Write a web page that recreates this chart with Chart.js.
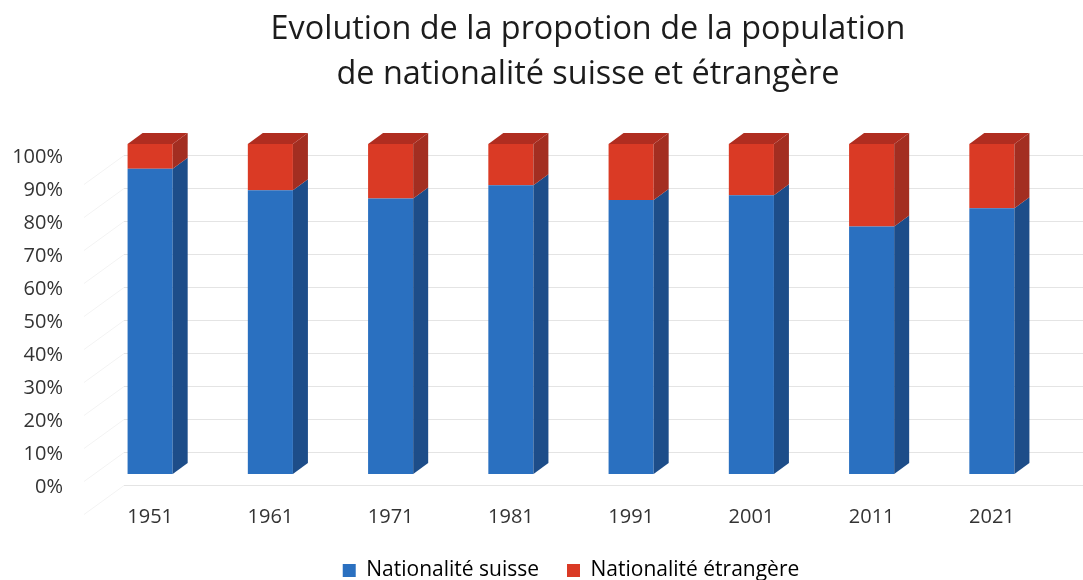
<!DOCTYPE html>
<html>
<head>
<meta charset="utf-8">
<script src="https://cdn.jsdelivr.net/npm/chart.js@4/dist/chart.umd.min.js"></script>
<style>
  html, body { margin: 0; padding: 0; background: #fff; }
  #wrap { width: 1083px; height: 580px; }
</style>
</head>
<body>
<div id="wrap"><canvas id="chart" width="1083" height="580"></canvas></div>
<script>
const years = ["1951", "1961", "1971", "1981", "1991", "2001", "2011", "2021"];
const suisse = [92.5, 86, 83.5, 87.5, 83, 84.5, 75, 80.5];
const etrangere = [7.5, 14, 16.5, 12.5, 17, 15.5, 25, 19.5];
const yTicks = [0, 10, 20, 30, 40, 50, 60, 70, 80, 90, 100];
const titleLines = ["Evolution de la propotion de la population", "de nationalité suisse et étrangère"];

const FONT = "'Open Sans', 'Noto Sans', sans-serif";
const DEPTH_X = 15;
const DEPTH_Y = 11;
const GRID_SHIFT = 11;

// side / top colours for the fake 3D look
const sideColors = ["#1d4d89", "#a32e21"];
const topColors = ["#1d4d89", "#b02d20"];

const backWall = {
  id: "backWall",
  beforeDatasetsDraw(chart) {
    const { ctx, chartArea, scales } = chart;
    ctx.save();
    ctx.lineWidth = 1;
    yTicks.forEach(v => {
      const y = Math.round(scales.y.getPixelForValue(v) + GRID_SHIFT) + 0.5;
      ctx.strokeStyle = "#e4e4e4";
      ctx.beginPath();
      ctx.moveTo(chartArea.left + 34, y);
      ctx.lineTo(chartArea.right + 32, y);
      ctx.stroke();
      ctx.strokeStyle = "#f3f3f3";
      ctx.beginPath();
      ctx.moveTo(chartArea.left + 34, y);
      ctx.lineTo(chartArea.left - 6, y + 29);
      ctx.stroke();
    });
    ctx.restore();
  }
};

const depth = {
  id: "depth",
  afterDatasetsDraw(chart) {
    const { ctx } = chart;
    const last = chart.data.datasets.length - 1;
    ctx.save();
    chart.data.datasets.forEach((ds, i) => {
      const meta = chart.getDatasetMeta(i);
      meta.data.forEach(bar => {
        const { x, y, base, width } = bar.getProps(["x", "y", "base", "width"], true);
        const l = x - width / 2, r = x + width / 2;
        ctx.fillStyle = sideColors[i];
        ctx.beginPath();
        ctx.moveTo(r, y);
        ctx.lineTo(r + DEPTH_X, y - DEPTH_Y);
        ctx.lineTo(r + DEPTH_X, base - DEPTH_Y);
        ctx.lineTo(r, base);
        ctx.closePath();
        ctx.fill();
        if (i === last) {
          ctx.fillStyle = topColors[i];
          ctx.beginPath();
          ctx.moveTo(l, y);
          ctx.lineTo(l + DEPTH_X, y - DEPTH_Y);
          ctx.lineTo(r + DEPTH_X, y - DEPTH_Y);
          ctx.lineTo(r, y);
          ctx.closePath();
          ctx.fill();
        }
      });
    });
    ctx.restore();
  }
};

// title is centred a bit right of the canvas middle in the original
const titleDraw = {
  id: "titleDraw",
  afterDraw(chart) {
    const { ctx } = chart;
    ctx.save();
    ctx.fillStyle = "#1c1c1c";
    ctx.font = "32.4px " + FONT;
    ctx.textAlign = "center";
    ctx.textBaseline = "alphabetic";
    ctx.fillText(titleLines[0], 588, 39);
    ctx.fillText(titleLines[1], 588, 84);
    ctx.restore();
  }
};

new Chart(document.getElementById("chart"), {
  type: "bar",
  data: {
    labels: years,
    datasets: [
      {
        label: "Nationalité suisse",
        data: suisse,
        backgroundColor: "#2a70c0",
        barPercentage: 0.75,
        categoryPercentage: 0.5
      },
      {
        label: "Nationalité étrangère",
        data: etrangere,
        backgroundColor: "#da3a25",
        barPercentage: 0.75,
        categoryPercentage: 0.5
      }
    ]
  },
  plugins: [backWall, depth, titleDraw],
  options: {
    responsive: false,
    animation: false,
    layout: { padding: { left: 0, right: 31, top: 144, bottom: -11 } },
    plugins: {
      title: { display: false },
      legend: {
        position: "bottom",
        fullSize: false,
        labels: {
          color: "#333",
          font: { family: FONT, size: 21 },
          boxWidth: 13,
          boxHeight: 13,
          padding: 28,
          generateLabels(chart) {
            return chart.data.datasets.map((ds, i) => ({
              text: ds.label,
              fillStyle: ds.backgroundColor,
              strokeStyle: ds.backgroundColor,
              lineWidth: 0,
              datasetIndex: i
            }));
          }
        }
      },
      tooltip: { enabled: false }
    },
    scales: {
      x: {
        stacked: true,
        grid: { display: false },
        border: { display: false },
        afterFit(scale) { scale.height = 58; },
        ticks: { color: "#333", font: { family: FONT, size: 20 }, padding: 23 }
      },
      y: {
        stacked: true,
        min: 0,
        max: 100,
        grid: { display: false },
        border: { display: false },
        afterFit(scale) { scale.width = 90; },
        afterBuildTicks(scale) { scale.ticks = yTicks.map(v => ({ value: v })); },
        ticks: {
          color: "#333",
          font: { family: FONT, size: 20 },
          padding: 19,
          labelOffset: GRID_SHIFT + 2,
          callback: v => v + "%"
        }
      }
    }
  }
});
</script>
</body>
</html>
